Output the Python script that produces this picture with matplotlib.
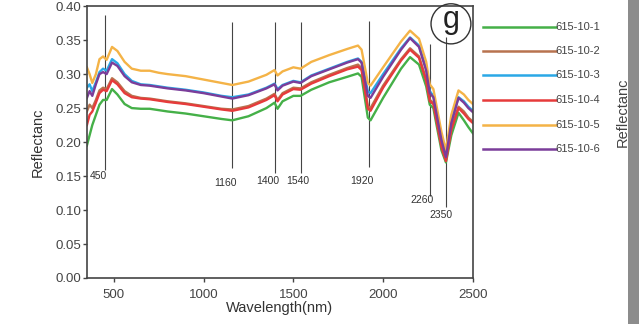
import matplotlib.pyplot as plt
from matplotlib.lines import Line2D
from matplotlib.patches import Ellipse, Rectangle

plt.rcParams['font.family'] = ['Liberation Sans', 'DejaVu Sans']

# Reflectance spectra of six samples (wavelength in nm)
wavelength = [350, 365, 380, 400, 420, 440, 460, 490, 520, 560, 600, 650, 700, 750,
              800, 900, 1000, 1100, 1160, 1250, 1350, 1395, 1412, 1440, 1500, 1540,
              1600, 1700, 1800, 1860, 1880, 1915, 1930, 2000, 2100, 2150, 2200, 2240,
              2260, 2280, 2300, 2325, 2350, 2380, 2420, 2450, 2475, 2500]

s615_10_1 = [0.195, 0.210, 0.225, 0.240, 0.255, 0.262, 0.262, 0.278, 0.270, 0.256, 0.250, 0.249,
             0.249, 0.247, 0.245, 0.242, 0.238, 0.234, 0.232, 0.238, 0.250, 0.258, 0.249, 0.260,
             0.268, 0.268, 0.277, 0.288, 0.296, 0.301, 0.296, 0.236, 0.232, 0.265, 0.308, 0.325,
             0.314, 0.282, 0.255, 0.250, 0.222, 0.188, 0.170, 0.210, 0.243, 0.232, 0.222, 0.213]
s615_10_2 = [0.245, 0.255, 0.250, 0.262, 0.276, 0.280, 0.278, 0.294, 0.288, 0.275, 0.268, 0.265,
             0.264, 0.262, 0.260, 0.257, 0.253, 0.249, 0.248, 0.253, 0.264, 0.271, 0.262, 0.272,
             0.280, 0.279, 0.288, 0.299, 0.309, 0.314, 0.309, 0.253, 0.250, 0.283, 0.322, 0.338,
             0.326, 0.292, 0.262, 0.258, 0.230, 0.195, 0.174, 0.220, 0.252, 0.245, 0.236, 0.230]
s615_10_3 = [0.280, 0.285, 0.275, 0.288, 0.303, 0.308, 0.305, 0.322, 0.316, 0.300, 0.290, 0.285,
             0.284, 0.282, 0.280, 0.277, 0.273, 0.268, 0.266, 0.270, 0.280, 0.286, 0.278, 0.284,
             0.290, 0.288, 0.298, 0.308, 0.318, 0.323, 0.318, 0.275, 0.272, 0.300, 0.338, 0.354,
             0.342, 0.308, 0.275, 0.268, 0.240, 0.205, 0.180, 0.230, 0.266, 0.260, 0.252, 0.246]
s615_10_4 = [0.225, 0.240, 0.245, 0.258, 0.272, 0.277, 0.275, 0.291, 0.285, 0.272, 0.266, 0.264,
             0.263, 0.261, 0.259, 0.256, 0.252, 0.248, 0.246, 0.251, 0.262, 0.269, 0.260, 0.270,
             0.278, 0.277, 0.286, 0.297, 0.307, 0.311, 0.306, 0.249, 0.246, 0.280, 0.320, 0.336,
             0.324, 0.290, 0.260, 0.256, 0.228, 0.193, 0.172, 0.218, 0.250, 0.242, 0.234, 0.228]
s615_10_5 = [0.310, 0.300, 0.287, 0.300, 0.322, 0.326, 0.321, 0.340, 0.334, 0.318, 0.308, 0.305,
             0.305, 0.302, 0.300, 0.297, 0.292, 0.287, 0.284, 0.289, 0.299, 0.306, 0.298, 0.304,
             0.310, 0.308, 0.318, 0.328, 0.337, 0.342, 0.336, 0.287, 0.283, 0.310, 0.348, 0.364,
             0.352, 0.318, 0.285, 0.278, 0.250, 0.215, 0.188, 0.240, 0.276, 0.270, 0.262, 0.256]
s615_10_6 = [0.265, 0.275, 0.268, 0.285, 0.300, 0.303, 0.300, 0.317, 0.312, 0.297, 0.288, 0.284,
             0.283, 0.281, 0.279, 0.276, 0.272, 0.267, 0.264, 0.269, 0.279, 0.285, 0.276, 0.283,
             0.289, 0.287, 0.297, 0.307, 0.317, 0.322, 0.317, 0.268, 0.265, 0.296, 0.336, 0.353,
             0.340, 0.305, 0.272, 0.266, 0.238, 0.203, 0.178, 0.228, 0.265, 0.258, 0.250, 0.244]

names = ['615-10-1', '615-10-2', '615-10-3', '615-10-4', '615-10-5', '615-10-6']
series = [s615_10_1, s615_10_2, s615_10_3, s615_10_4, s615_10_5, s615_10_6]
colors = ['#45b048', '#b8734f', '#2aa8e6', '#e63b3b', '#f4b347', '#7b3d9a']

# absorption features: wavelength, line top/bottom, label position
features = [450, 1160, 1400, 1540, 1920, 2260, 2350]
feat_top = [0.387, 0.376, 0.376, 0.376, 0.378, 0.345, 0.355]
feat_bot = [0.159, 0.162, 0.154, 0.154, 0.163, 0.120, 0.104]
feat_lab_x = [415, 1122, 1356, 1522, 1880, 2215, 2325]
feat_lab_y = [0.150, 0.140, 0.143, 0.143, 0.142, 0.115, 0.092]

fig = plt.figure(figsize=(6.39, 3.24), dpi=100)
ax = fig.add_axes([0.136, 0.142, 0.604, 0.839])

for name, vals, c in zip(names, series, colors):
    ax.plot(wavelength, vals, color=c, lw=1.7, label=name)

for w, t, b, lx, ly in zip(features, feat_top, feat_bot, feat_lab_x, feat_lab_y):
    ax.vlines(w, b, t, color='#444444', lw=0.8, zorder=1)
    ax.text(lx, ly, str(w), ha='center', va='center', fontsize=7.5, color='#333333')

ax.set_xlim(350, 2500)
ax.set_ylim(0, 0.40)
ax.set_xticks([500, 1000, 1500, 2000, 2500])
ax.set_yticks([0.0, 0.05, 0.10, 0.15, 0.20, 0.25, 0.30, 0.35, 0.40])
ax.set_yticklabels(['0.00', '0.05', '0.10', '0.15', '0.20', '0.25', '0.30', '0.35', '0.40'])
ax.tick_params(direction='out', length=3, width=1, labelsize=9.5, colors='#444444', pad=1)
ax.tick_params(axis='x', pad=5)
for sp in ax.spines.values():
    sp.set_color('#444444')
    sp.set_linewidth(1.2)
ax.set_xlabel('Wavelength(nm)', fontsize=10.5, color='#333333', labelpad=0)
ax.set_ylabel('Reflectanc', fontsize=10.5, color='#333333', labelpad=8)

# panel letter in a circle
ax.add_patch(Ellipse((2378, 0.374), 222, 0.059, fill=False, ec='#333333', lw=1.0,
                     clip_on=False, zorder=5))
ax.text(2378, 0.379, 'g', ha='center', va='center', fontsize=22, color='#222222', zorder=6)

# legend drawn beside the axes
W, H = 639, 324
rows = [27, 51, 75, 100, 125, 149]
for name, c, y in zip(names, colors, rows):
    fig.add_artist(Line2D([483 / W, 556 / W], [1 - y / H, 1 - y / H], color=c, lw=1.8))
    fig.text(555 / W, 1 - y / H, name, fontsize=8, color='#444444', va='center', ha='left')

fig.text(623 / W, 1 - 112 / H, 'Reflectanc', rotation=90, fontsize=10.5, color='#444444',
         ha='center', va='center')
fig.add_artist(Rectangle((628 / W, 0), 11 / W, 1, transform=fig.transFigure,
                         facecolor='#8c8c8c', edgecolor='none'))

fig.savefig('out.png', dpi=100)
